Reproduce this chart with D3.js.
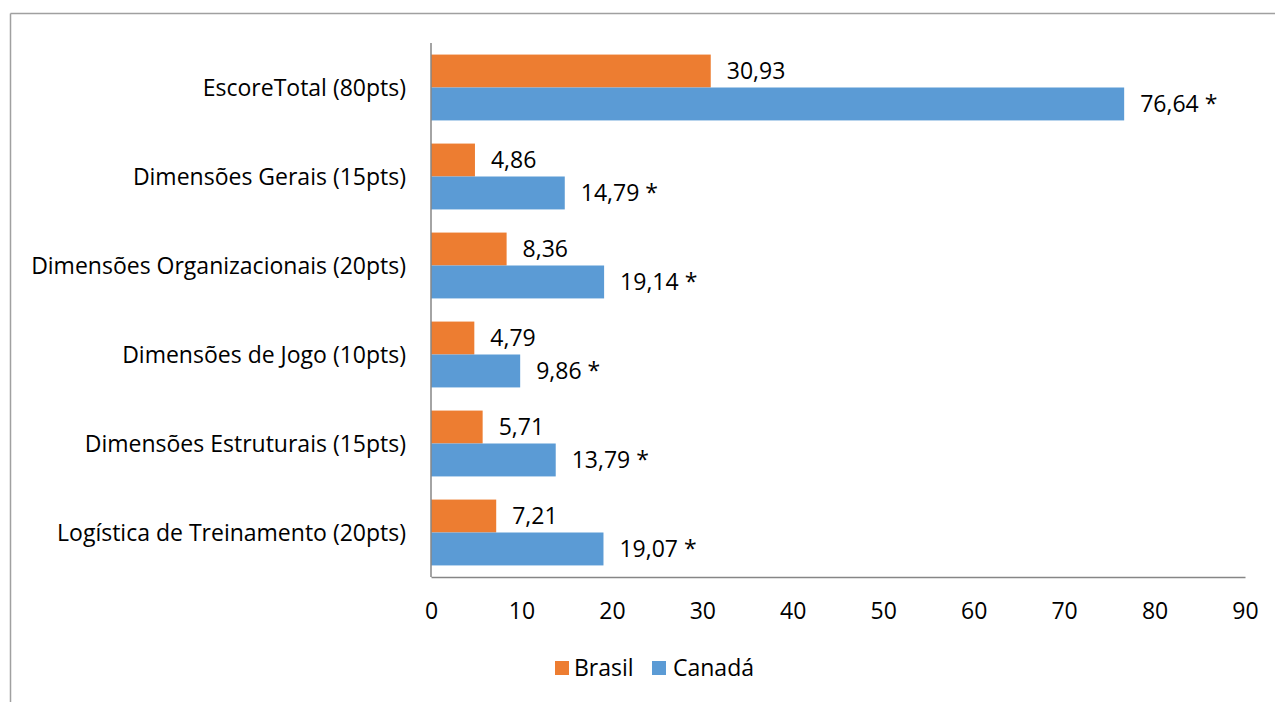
<!DOCTYPE html>
<html><head><meta charset="utf-8">
<script src="https://cdn.jsdelivr.net/npm/d3@7"></script>
<style>body{margin:0;background:#fff;} svg{display:block;} text{font-family:"Open Sans",Lato,sans-serif;fill:#000;}</style>
</head><body>
<svg id="c" width="1275" height="702"></svg>
<script>
const categories = ["EscoreTotal (80pts)","Dimensões Gerais (15pts)","Dimensões Organizacionais (20pts)","Dimensões de Jogo (10pts)","Dimensões Estruturais (15pts)","Logística de Treinamento (20pts)"];
const seriesNames = ["Brasil","Canadá"];
const brasil = [30.93,4.86,8.36,4.79,5.71,7.21];
const canada = [76.64,14.79,19.14,9.86,13.79,19.07];
const canadaSuffix = " *";
const xTicks = [0,10,20,30,40,50,60,70,80,90];
const colors = ["#ED7D31","#5B9BD5"];

const svg = d3.select("#c");
const fs = 23;
const ff = "Open Sans";
// frame
svg.append("line").attr("x1",10.5).attr("x2",1275).attr("y1",13.5).attr("y2",13.5).attr("stroke","#A0A0A0").attr("stroke-width",1.5);
svg.append("line").attr("x1",10.5).attr("x2",10.5).attr("y1",13.5).attr("y2",702).attr("stroke","#A0A0A0").attr("stroke-width",1.5);

const x = d3.scaleLinear().domain([0,90]).range([431,1245]);
const y = d3.scaleBand().domain(categories).range([43,577]).paddingInner(0.26).paddingOuter(0.13);
const sub = d3.scaleBand().domain(seriesNames).range([0,y.bandwidth()]);
const fmt = v => d3.format(".2f")(v).replace(".",",");

const data = categories.map((c,i)=>({c, vals:[brasil[i],canada[i]]}));
const g = svg.append("g");
data.forEach(d=>{
  d.vals.forEach((v,j)=>{
    const yy = y(d.c)+sub(seriesNames[j]);
    g.append("rect").attr("x",x(0)).attr("y",yy).attr("width",x(v)-x(0)).attr("height",sub.bandwidth()).attr("fill",colors[j]);
    g.append("text").attr("x",x(v)+16).attr("y",yy+sub.bandwidth()/2).attr("dy","0.36em").attr("font-size",fs)
      .text(fmt(v)+(j===1?canadaSuffix:""));
  });
});

// y axis
const yAxis = svg.append("g").attr("transform",`translate(${x(0)},0)`).call(d3.axisLeft(y).tickSize(0).tickPadding(25));
yAxis.select(".domain").attr("stroke","#868686").attr("stroke-width",1.5).attr("d",`M0,43V577`);
yAxis.selectAll("text").attr("font-size",fs).attr("font-family",ff).attr("fill","#000").attr("dy","0.36em");

const xAxis = svg.append("g").attr("transform",`translate(0,577)`).call(d3.axisBottom(x).tickValues(xTicks).tickSize(0).tickPadding(26));
xAxis.select(".domain").attr("stroke","#868686").attr("stroke-width",1.5);
xAxis.selectAll("text").attr("font-size",fs).attr("font-family",ff).attr("fill","#000");

// legend
const leg = svg.append("g");
const items = [{n:seriesNames[0],x:555,tx:574},{n:seriesNames[1],x:652,tx:673}];
items.forEach((it,i)=>{
  leg.append("rect").attr("x",it.x).attr("y",661).attr("width",14).attr("height",14).attr("fill",colors[i]);
  leg.append("text").attr("x",it.tx).attr("y",668).attr("dy","0.36em").attr("font-size",fs).text(it.n);
});
</script>
</body></html>
